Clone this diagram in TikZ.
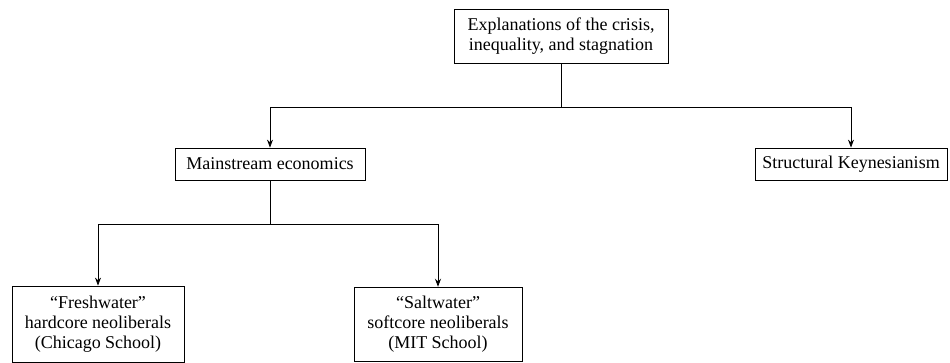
\documentclass[tikz,border=0pt]{standalone}
\usepackage{fontspec}
\setmainfont{Liberation Serif}
\usetikzlibrary{arrows.meta,positioning}
\tikzstyle{box}   = [draw=black, line width=0.6pt, align=center, inner sep=2pt, font=\fontsize{13.5}{15}\selectfont]
\tikzstyle{arrow} = [line width=0.6pt,-{Stealth[length=6pt,width=4.5pt]}]

\begin{document}
\begin{tikzpicture}[x=0.75pt,y=-0.75pt,line width=0.6pt]
		\useasboundingbox (0,0) rectangle (950,363);

		\node[box, minimum width=160.5pt, minimum height=40.5pt] (crisis) at (561,36) {Explanations of the crisis,\\inequality, and stagnation};
		\node[box, minimum width=142.5pt, minimum height=24pt] (main) at (270,164) {Mainstream economics};
		\node[box, minimum width=144pt, minimum height=24pt] (struct) at (851,164) {Structural Keynesianism};
		\node[box, minimum width=129pt, minimum height=57pt] (fresh) at (98,324) {“Freshwater”\\hardcore neoliberals\\(Chicago School)};
		\node[box, minimum width=126pt, minimum height=56pt] (salt) at (438,324.5) {“Saltwater”\\softcore neoliberals\\(MIT School)};

		\coordinate (split1) at (561,107);
		\coordinate (split2) at (270,224);

		\draw (crisis.south) -- (split1);
		\draw[arrow] (split1) -| (main.north);
		\draw[arrow] (split1) -| (struct.north);

		\draw (main.south) -- (split2);
		\draw[arrow] (split2) -| (fresh.north);
		\draw[arrow] (split2) -| (salt.north);
	\end{tikzpicture}
\end{document}
